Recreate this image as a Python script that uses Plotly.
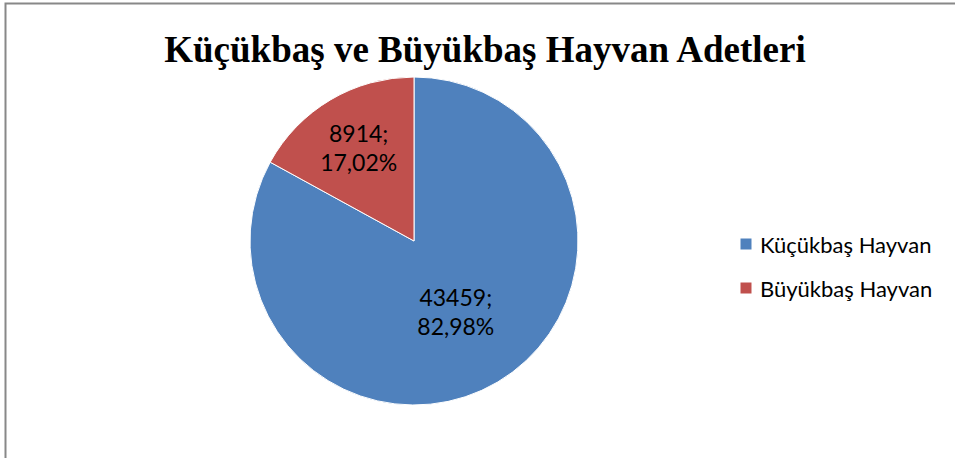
import plotly.graph_objects as go

labels = ["Küçükbaş Hayvan", "Büyükbaş Hayvan"]
values = [43459, 8914]
colors = ["#4F81BD", "#C0504D"]
title_text = "Küçükbaş ve Büyükbaş Hayvan Adetleri"

W, H = 955, 458
cx, cy, r = 414, 241, 164

fig = go.Figure()
fig.add_trace(go.Pie(
    labels=labels,
    values=values,
    sort=False,
    direction="clockwise",
    rotation=0,
    marker=dict(colors=colors, line=dict(color="white", width=1)),
    texttemplate="%{value:d};<br>%{percent:.2%}",
    textposition="inside",
    insidetextorientation="horizontal",
    textfont=dict(family="Lato", size=23, color="black"),
    hoverinfo="label+value+percent",
    domain=dict(x=[(cx - r) / W, (cx + r) / W], y=[1 - (cy + r) / H, 1 - (cy - r) / H]),
    showlegend=False,
))

# manual legend
leg_x = 746
leg_y = [244, 288]
for lab, col, yy in zip(labels, colors, leg_y):
    fig.add_shape(type="rect", xref="paper", yref="paper",
                  x0=(leg_x - 5.5) / W, x1=(leg_x + 5.5) / W,
                  y0=1 - (yy + 5.5) / H, y1=1 - (yy - 5.5) / H,
                  fillcolor=col, line=dict(width=0))
    fig.add_annotation(xref="paper", yref="paper", x=(leg_x + 12) / W, y=1 - yy / H,
                       text=lab, showarrow=False, xanchor="left", yanchor="middle",
                       font=dict(family="Lato", size=22, color="black"))

# frame
fig.add_shape(type="rect", xref="paper", yref="paper",
              x0=5.5 / W, x1=1.05, y0=-0.05, y1=1 - 3.5 / H,
              line=dict(color="#888888", width=2), fillcolor="rgba(0,0,0,0)")

fig.update_layout(
    width=W, height=H,
    margin=dict(l=0, r=0, t=0, b=0),
    paper_bgcolor="white",
    plot_bgcolor="white",
    separators=",.",
    title=dict(text="<b>" + title_text + "</b>", x=485 / W, xanchor="center",
               y=1 - 49 / H, yanchor="middle", yref="container",
               font=dict(family="Liberation Serif", size=37, color="black")),
)

fig.write_html("out.html", config={"displayModeBar": False},
               post_script="document.body.style.margin='0';document.body.style.overflow='hidden';")
